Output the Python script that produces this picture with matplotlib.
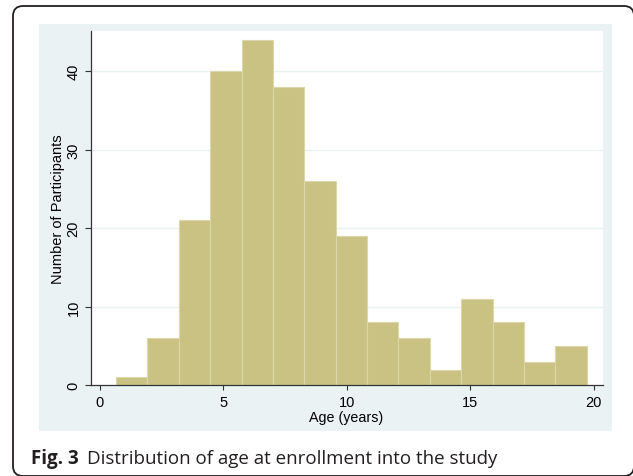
import numpy as np
import matplotlib
matplotlib.use("Agg")
import matplotlib.pyplot as plt
from matplotlib.patches import Rectangle, FancyBboxPatch
from matplotlib.transforms import IdentityTransform

# ---- data ----
counts = [1, 6, 21, 40, 44, 38, 26, 19, 8, 6, 2, 11, 8, 3, 5]
age_min = 0.66
age_max = 19.72
x_ticks = [0, 5, 10, 15, 20]
y_ticks = [0, 10, 20, 30, 40]
x_label = "Age (years)"
y_label = "Number of Participants"
caption_bold = "Fig. 3"
caption_text = "Distribution of age at enrollment into the study"

edges = np.linspace(age_min, age_max, len(counts) + 1)

W, H = 633, 477
fig = plt.figure(figsize=(W / 100, H / 100), dpi=100)
fig.patch.set_facecolor("white")

def px(x0, y0_top, x1, y1_top):
    # convert pixel box (top-origin) to figure fraction
    return [x0 / W, 1 - y1_top / H, (x1 - x0) / W, (y1_top - y0_top) / H]

# outer rounded border
border = FancyBboxPatch((13 + 10, 0 + 10), 634 - 13 - 20, 470 - 0 - 20,
                        boxstyle="round,pad=10", transform=IdentityTransform(),
                        facecolor="none", edgecolor="#231f20", linewidth=1.3,
                        figure=fig, zorder=5)
fig.patches.append(border)

# Stata graph region background
panel = Rectangle((39 / W, 1 - 432 / H), (612 - 39) / W, (432 - 25) / H,
                  transform=fig.transFigure, facecolor="#eaf2f3",
                  edgecolor="none", figure=fig, zorder=-5)
fig.patches.append(panel)

ax = fig.add_axes(px(90.7, 32, 603, 386.3))
ax.set_zorder(1)
ax.set_facecolor("white")

ax.bar(edges[:-1], counts, width=np.diff(edges), align="edge",
       color="#c9c283", edgecolor="#dcd7ab", linewidth=0.8, zorder=2)

ax.set_xlim(-0.365, 20.38)
ax.set_ylim(0, 45.1)
ax.set_xticks(x_ticks)
ax.set_yticks(y_ticks)
for y in y_ticks[1:]:
    ax.axhline(y, color="#eaf2f3", linewidth=1.0, zorder=1)

font = "Liberation Sans"
ax.set_xticklabels([str(t) for t in x_ticks], fontsize=10.5, family=font)
ax.set_yticklabels([str(t) for t in y_ticks], fontsize=10.5, family=font,
                   rotation=90, va="center")
ax.tick_params(axis="y", direction="out", length=4.3, width=0.8, pad=3,
               color="#333333")
ax.tick_params(axis="x", direction="out", length=3.8, width=0.8, pad=3,
               color="#333333")

for s in ["top", "right"]:
    ax.spines[s].set_visible(False)
for s in ["left", "bottom"]:
    ax.spines[s].set_color("#333333")
    ax.spines[s].set_linewidth(0.9)

fig.text(57.7 / W, 1 - ((32 + 386.3) / 2) / H, y_label, rotation=90,
         ha="center", va="center", fontsize=10.5, family=font)
fig.text(346 / W, 1 - 421.7 / H, x_label,
         ha="center", va="baseline", fontsize=10.3, family=font)

# caption
cap_y = 1 - 464 / H
cfont = "Open Sans"
t1 = fig.text(31 / W, cap_y, caption_bold, ha="left", va="baseline",
              fontsize=13.5, family=cfont, fontweight="bold", color="#231f20")
fig.canvas.draw()
bb = t1.get_window_extent()
fig.text((bb.x1 + 8) / W, cap_y, caption_text, ha="left", va="baseline",
         fontsize=13.5, family=cfont, color="#231f20")

fig.savefig("out.png", dpi=100)
